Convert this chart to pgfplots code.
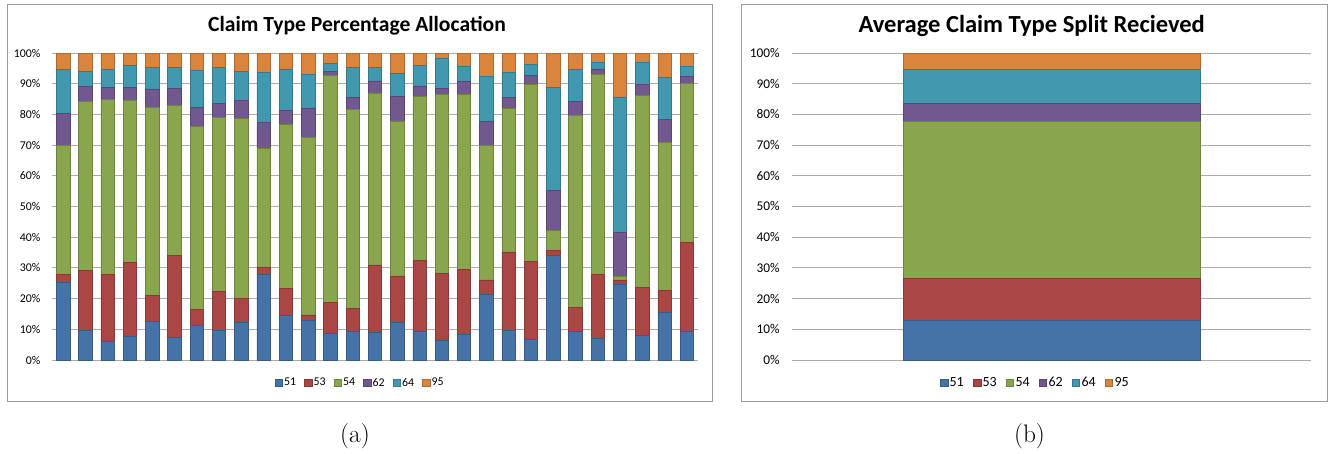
\documentclass[border=0pt]{standalone}
\usepackage{pgfplots}
\pgfplotsset{compat=1.18}
\usepackage{pgfplotstable}
\usepackage{fontspec}
\newfontfamily\calibri{Carlito}

\definecolor{c51}{HTML}{4572A7}
\definecolor{c53}{HTML}{AA4643}
\definecolor{c54}{HTML}{89A54E}
\definecolor{c62}{HTML}{71588F}
\definecolor{c64}{HTML}{4198AF}
\definecolor{c95}{HTML}{DB843D}
\definecolor{gridgray}{HTML}{ABABAB}
\definecolor{framegray}{HTML}{9A9A9A}

% share of each claim type per period (percent)
\pgfplotstableread{
x  s51  s53  s54  s62  s64  s95
1  25.3 2.6  42.0 10.5 14.2 5.4
2  9.6  19.5 55.0 5.1  4.7  6.1
3  6.0  21.8 57.0 4.1  5.9  5.2
4  7.8  23.9 53.0 4.2  7.0  4.1
5  12.5 8.5  61.4 5.9  7.1  4.6
6  7.4  26.8 48.7 5.7  6.8  4.6
7  11.3 5.3  59.5 6.3  12.1 5.5
8  9.6  12.7 56.8 4.6  11.7 4.6
9  12.2 7.9  58.5 6.0  9.4  6.0
10 27.9 2.2  38.9 8.4  16.3 6.3
11 14.5 8.9  53.4 4.5  13.5 5.2
12 12.8 1.9  57.9 9.5  10.8 7.1
13 8.7  10.1 73.9 1.3  2.7  3.3
14 9.5  7.2  65.0 3.8  9.9  4.6
15 9.0  22.0 56.0 3.9  4.5  4.6
16 12.2 15.2 50.5 8.0  7.5  6.6
17 9.5  22.9 53.5 3.4  6.6  4.1
18 6.3  22.0 58.1 2.0  10.0 1.6
19 8.4  21.2 56.8 4.5  4.8  4.3
20 21.3 4.8  43.8 7.7  14.8 7.6
21 9.6  25.6 46.8 3.4  8.2  6.4
22 6.8  25.3 57.8 2.9  3.4  3.8
23 34.2 1.5  6.5  13.0 33.7 11.1
24 9.3  7.9  62.4 4.6  10.6 5.2
25 7.1  20.8 65.1 1.8  2.2  3.0
26 24.7 1.4  1.1  14.4 44.1 14.3
27 8.0  15.6 62.7 3.6  7.1  3.0
28 15.5 7.1  48.3 7.4  13.9 7.8
29 9.5  28.9 51.8 2.2  3.3  4.3
}\periods

% average split over all periods
\pgfplotstableread{
x s51  s53  s54  s62 s64  s95
0 12.8 13.7 51.3 5.7 11.1 5.4
}\average

\pgfplotsset{
  claimbars/.style={
    ybar stacked,
    scale only axis,
    ymin=0, ymax=100,
    ytick={0,10,...,100},
    yticklabels={0\%,10\%,20\%,30\%,40\%,50\%,60\%,70\%,80\%,90\%,100\%},
    xtick=\empty,
    ymajorgrids,
    major grid style={draw=gridgray, line width=0.75pt},
    axis line style={draw=none},
    tick style={draw=none},
    yticklabel style={inner sep=0pt, anchor=east, text=black},
    legend columns=-1,
    legend image code/.code={\draw[##1, line width=0.4pt] (0pt,-2.6pt) rectangle (5.3pt,2.6pt);},
    legend style={draw=none, fill=none, anchor=center,
      nodes={inner sep=1.2pt},
      /tikz/every even column/.append style={column sep=5pt}},
    every axis plot/.append style={line width=0.5pt},
  },
  s51/.style={fill=c51, draw=c51!80!black},
  s53/.style={fill=c53, draw=c53!80!black},
  s54/.style={fill=c54, draw=c54!80!black},
  s62/.style={fill=c62, draw=c62!80!black},
  s64/.style={fill=c64, draw=c64!80!black},
  s95/.style={fill=c95, draw=c95!80!black},
}

\begin{document}
\begin{tikzpicture}
\begin{scope}[x=0.75pt, y=-0.75pt]
  \path[use as bounding box] (0,0) rectangle (1334,453);
  \draw[framegray, line width=0.75pt] (7,5) rectangle (712,401);
  \draw[framegray, line width=0.75pt] (741,5) rectangle (1327,401);
  \node[font=\calibri\bfseries\fontsize{16.2}{18}\selectfont] at (357,26) {Claim Type Percentage Allocation};
  \node[font=\calibri\bfseries\fontsize{18.4}{20}\selectfont] at (1031.7,26) {Average Claim Type Split Recieved};
  \node[font=\fontsize{19}{22}\selectfont] at (355,436) {(a)};
  \node[font=\fontsize{19}{22}\selectfont] at (1029.5,436) {(b)};
\end{scope}

\begin{axis}[claimbars,
  at={(39pt,-270pt)}, anchor=south west,
  width=484.5pt, height=230.25pt,
  xmin=0.5, xmax=29.5, bar width=10.05pt,
  yticklabel style={font=\calibri\fontsize{8.9}{10}\selectfont, xshift=-8.5pt},
  legend style={at={(0.477,-0.075)}, font=\calibri\fontsize{8.9}{10}\selectfont},
]
  \addplot[s51] table[x=x, y=s51] {\periods};
  \addplot[s53] table[x=x, y=s53] {\periods};
  \addplot[s54] table[x=x, y=s54] {\periods};
  \addplot[s62] table[x=x, y=s62] {\periods};
  \addplot[s64] table[x=x, y=s64] {\periods};
  \addplot[s95] table[x=x, y=s95] {\periods};
  \legend{51,53,54,62,64,95}
\end{axis}

\begin{axis}[claimbars,
  at={(594pt,-270pt)}, anchor=south west,
  width=389.25pt, height=230.25pt,
  xmin=-0.5, xmax=0.5, bar width=222.75pt,
  yticklabel style={font=\calibri\fontsize{10}{12}\selectfont, xshift=-9pt},
  legend style={at={(0.469,-0.075)}, font=\calibri\fontsize{10.5}{12}\selectfont,
    /tikz/every even column/.append style={column sep=6pt}},
]
  \addplot[s51] table[x=x, y=s51] {\average};
  \addplot[s53] table[x=x, y=s53] {\average};
  \addplot[s54] table[x=x, y=s54] {\average};
  \addplot[s62] table[x=x, y=s62] {\average};
  \addplot[s64] table[x=x, y=s64] {\average};
  \addplot[s95] table[x=x, y=s95] {\average};
  \legend{51,53,54,62,64,95}
\end{axis}
\end{tikzpicture}
\end{document}
